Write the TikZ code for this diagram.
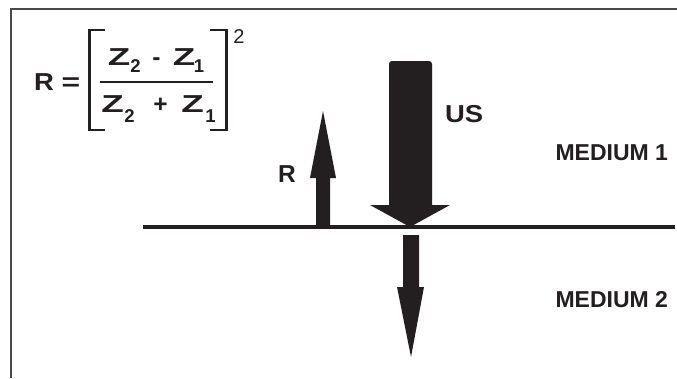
\documentclass[tikz,border=0pt]{standalone}
\usepackage{fontspec}
\setmainfont{Liberation Sans}
\definecolor{ink}{HTML}{231F20}
\definecolor{framec}{HTML}{4A4A4A}
\newcommand{\wideZ}{\scalebox{1.5}[1]{Z}}
\newcommand{\wideT}[1]{\scalebox{1.12}[1]{#1}}
\tikzset{
  txt/.style={inner sep=0pt, outer sep=0pt, text=ink, anchor=base},
  big/.style={txt, font=\bfseries\fontsize{24.5}{24.5}\selectfont},
  subs/.style={txt, font=\bfseries\fontsize{18.5}{18.5}\selectfont},
  supers/.style={txt, font=\fontsize{20}{20}\selectfont},
  medium/.style={txt, anchor=base east, font=\bfseries\fontsize{23}{23}\selectfont},
  arrowfill/.style={fill=ink},
  bracket/.style={draw=ink, line width=2.5pt},
}
\begin{document}
\begin{tikzpicture}[x=1pt,y=-1pt]
\useasboundingbox (0,0) rectangle (677,378);
\fill[white] (0,0) rectangle (677,378);
% frame (only top and left edges visible)
\coordinate (fbl) at (11,378);
\coordinate (ftl) at (11,9);
\coordinate (ftr) at (677,9);
\draw[framec, line width=2pt] (fbl) -- (ftl) -- (ftr);
% interface line
\coordinate (ifl) at (143,227);
\coordinate (ifr) at (675,227);
\draw[ink, line width=4.5pt] (ifl) -- (ifr);
% reflected arrow R
\fill[arrowfill] (316,227) -- (316,178) -- (310,178) -- (323,111) -- (336,178) -- (330,178) -- (330,227) -- cycle;
% incident ultrasound arrow US
\fill[arrowfill] (389,205) [rounded corners=3pt] -- (389,61) -- (432,61) [sharp corners] -- (432,205) -- (450,205) -- (410,227) -- (370,205) -- cycle;
% transmitted arrow
\fill[arrowfill] (403,235) -- (419,235) -- (419,287) -- (424,287) -- (411,357) -- (397,287) -- (403,287) -- cycle;
% labels
\node[big, anchor=base west] (us) at (445,122) {\wideT{US}};
\node[big, anchor=base west] (rl) at (278,182) {R};
\node[medium] (m1) at (668,160) {MEDIUM 1};
\node[medium] (m2) at (668,307) {MEDIUM 2};
% formula
\node[big] (fr) at (44,90) {\wideT{R}};
\node[big] (feq) at (71,90) {\scalebox{1.3}[1]{=}};
\node[big] (nz2) at (119,65) {\wideZ};
\node[subs] (ns2) at (135.5,72) {2};
\node[big] (nmin) at (156.5,65) {-};
\node[big] (nz1) at (184,65) {\wideZ};
\node[subs] (ns1) at (199,72) {1};
\node[big] (dz2) at (112.5,112) {\wideZ};
\node[subs] (ds2) at (129.5,122) {2};
\node[big] (dplus) at (160.5,112) {+};
\node[big] (dz1) at (192.5,112) {\wideZ};
\node[subs] (ds1) at (210.5,122) {1};
\node[supers] (sq) at (239,43) {2};
\coordinate (fl1) at (100,82);
\coordinate (fl2) at (213,82);
\draw[ink, line width=2pt] (fl1) -- (fl2);
\draw[bracket] (105,30) -- (89.5,30) -- (89.5,130) -- (105,130);
\draw[bracket] (210,30) -- (226.5,30) -- (226.5,130) -- (210,130);
\end{tikzpicture}
\end{document}
